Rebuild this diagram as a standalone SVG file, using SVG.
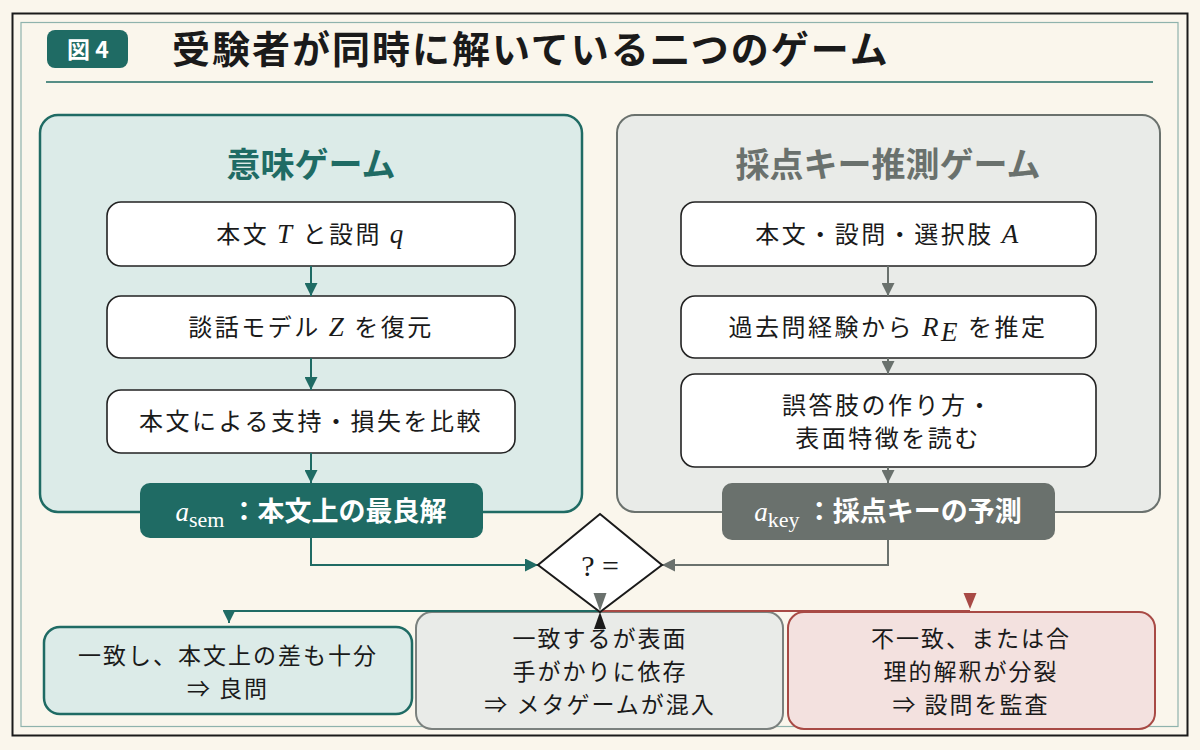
<svg xmlns="http://www.w3.org/2000/svg" width="1200" height="750" viewBox="0 0 1200 750">
<defs>
<style>
.jp{font-family:"Noto Sans CJK JP","Noto Sans",sans-serif;}
.m{font-family:"Liberation Serif","DejaVu Serif",serif;font-style:italic;font-size:27px;}
.box{fill:#ffffff;stroke:#222222;stroke-width:1.6;}
.bt{font-size:24px;fill:#1a1a1a;letter-spacing:2.5px;}
.res{font-size:27px;font-weight:bold;fill:#ffffff;}
.ct{stroke:#1f6b64;stroke-width:2;fill:none;}
.cg{stroke:#6a716d;stroke-width:2;fill:none;}
.cr{stroke:#a84a45;stroke-width:2;fill:none;}
.ot{font-size:23px;fill:#1a1a1a;letter-spacing:2px;}
</style>
<marker id="at" viewBox="0 0 13 13" refX="13" refY="6.5" markerWidth="13" markerHeight="13" markerUnits="userSpaceOnUse" orient="auto"><path d="M0,0 L13,6.5 L0,13 z" fill="#1f6b64"/></marker>
<marker id="ag" viewBox="0 0 13 13" refX="13" refY="6.5" markerWidth="13" markerHeight="13" markerUnits="userSpaceOnUse" orient="auto"><path d="M0,0 L13,6.5 L0,13 z" fill="#6a716d"/></marker>
</defs>
<rect x="0" y="0" width="1200" height="750" fill="#faf6ec"/>
<rect x="12.5" y="13.5" width="1175" height="722" fill="none" stroke="#1a1a1a" stroke-width="2"/>
<rect x="21" y="22.5" width="1157" height="704" fill="none" stroke="#8fb3ad" stroke-width="1.2"/>

<g id="header">
<rect x="47" y="30" width="81" height="38" rx="8" fill="#1f6b64"/>
<text x="88" y="57.5" text-anchor="middle" class="jp" font-size="23" font-weight="bold" fill="#ffffff">図 4</text>
<text x="172" y="63" class="jp" font-size="38" font-weight="bold" fill="#1a1a1a" letter-spacing="2">受験者が同時に解いている二つのゲーム</text>
<line x1="46" y1="82" x2="1153" y2="82" stroke="#1f6b64" stroke-width="1.5"/>
</g>

<g id="panel-sem">
<rect x="40" y="115" width="542" height="397" rx="18" fill="#dcebe8" stroke="#1f6b64" stroke-width="2.5"/>
<text x="311" y="177" text-anchor="middle" class="jp" font-size="34" font-weight="bold" fill="#1f6b64">意味ゲーム</text>
</g>
<g id="panel-key">
<rect x="617" y="115" width="543" height="397" rx="18" fill="#e9ebe8" stroke="#6a716d" stroke-width="2"/>
<text x="888" y="177" text-anchor="middle" class="jp" font-size="34" font-weight="bold" fill="#6a716d">採点キー推測ゲーム</text>
</g>

<g id="sem1"><rect class="box" x="107" y="202" width="408" height="64" rx="14"/>
<text x="311" y="243" text-anchor="middle" class="jp bt">本文 <tspan class="m">T</tspan> と設問 <tspan class="m">q</tspan></text></g>
<g id="sem2"><rect class="box" x="107" y="296" width="408" height="62" rx="14"/>
<text x="311" y="336" text-anchor="middle" class="jp bt">談話モデル <tspan class="m">Z</tspan> を復元</text></g>
<g id="sem3"><rect class="box" x="107" y="390" width="408" height="63" rx="14"/>
<text x="311" y="430" text-anchor="middle" class="jp bt" letter-spacing="2">本文による支持・損失を比較</text></g>
<g id="sem-result"><rect x="140" y="483" width="343" height="55" rx="10" fill="#1f6b64"/>
<text x="311" y="521" text-anchor="middle" class="jp res"><tspan class="m" font-weight="normal" font-size="34">a</tspan><tspan font-family="Liberation Serif, serif" font-weight="normal" font-size="22" dy="6">sem</tspan><tspan dy="-6"> ：本文上の最良解</tspan></text></g>

<g id="key1"><rect class="box" x="681" y="202" width="415" height="64" rx="14"/>
<text x="888" y="243" text-anchor="middle" class="jp bt">本文・設問・選択肢 <tspan class="m">A</tspan></text></g>
<g id="key2"><rect class="box" x="681" y="296" width="415" height="62" rx="14"/>
<text x="888" y="336" text-anchor="middle" class="jp bt">過去問経験から <tspan class="m">R</tspan><tspan class="m" font-size="18" dy="5">E</tspan><tspan dy="-5"> を推定</tspan></text></g>
<g id="key3"><rect class="box" x="681" y="374" width="415" height="93" rx="14"/>
<text x="888" y="414" text-anchor="middle" class="jp bt">誤答肢の作り方・</text>
<text x="888" y="447" text-anchor="middle" class="jp bt">表面特徴を読む</text></g>
<g id="key-result"><rect x="722" y="483" width="333" height="57" rx="10" fill="#6a716d"/>
<text x="888" y="521" text-anchor="middle" class="jp res"><tspan class="m" font-weight="normal" font-size="34">a</tspan><tspan font-family="Liberation Serif, serif" font-weight="normal" font-size="22" dy="6">key</tspan><tspan dy="-6"> ：採点キーの予測</tspan></text></g>

<g id="outcome-good"><rect x="44" y="627" width="368" height="87" rx="16" fill="#dcebe8" stroke="#1f6b64" stroke-width="2.5"/>
<text x="228" y="664" text-anchor="middle" class="jp ot" letter-spacing="0.5">一致し、本文上の差も十分</text>
<text x="228" y="697" text-anchor="middle" class="jp ot">⇒ 良問</text></g>
<g id="outcome-meta"><rect x="416" y="612" width="367" height="117" rx="16" fill="#e9ebe8" stroke="#7b817e" stroke-width="2"/>
<text x="600" y="647" text-anchor="middle" class="jp ot">一致するが表面</text>
<text x="600" y="680" text-anchor="middle" class="jp ot">手がかりに依存</text>
<text x="600" y="713" text-anchor="middle" class="jp ot">⇒ メタゲームが混入</text></g>
<g id="outcome-audit"><rect x="788" y="612" width="367" height="117" rx="16" fill="#f3e1df" stroke="#a84a45" stroke-width="2"/>
<text x="971" y="647" text-anchor="middle" class="jp ot">不一致、または合</text>
<text x="971" y="680" text-anchor="middle" class="jp ot">理的解釈が分裂</text>
<text x="971" y="713" text-anchor="middle" class="jp ot">⇒ 設問を監査</text></g>

<g id="connectors">
<path class="ct" d="M311,266 V296" marker-end="url(#at)"/>
<path class="ct" d="M311,358 V390" marker-end="url(#at)"/>
<path class="ct" d="M311,453 V483" marker-end="url(#at)"/>
<path class="cg" d="M888,266 V296" marker-end="url(#ag)"/>
<path class="cg" d="M888,358 V374" marker-end="url(#ag)"/>
<path class="cg" d="M888,467 V483" marker-end="url(#ag)"/>
<path class="ct" d="M311,538 V565 H538" marker-end="url(#at)"/>
<path class="cg" d="M888,540 V565 H662" marker-end="url(#ag)"/>
<path class="ct" d="M600,611 H229 V623" marker-end="url(#at)"/>
<path class="cr" d="M600,611 H970"/>
<polygon points="963.5,593 976.5,593 970,609" fill="#a84a45"/>
</g>

<g id="decision">
<polygon points="600,514 662,565 600,612 538,565" fill="#ffffff" stroke="#1a1a1a" stroke-width="2"/>
<text x="600" y="576" text-anchor="middle" font-family="Liberation Serif, serif" font-size="30" fill="#1a1a1a">? =</text>
<polygon points="593.5,593 606.5,593 600,611" fill="#6a716d"/>
<polygon points="594,629 606,629 600,612" fill="#1a1a1a"/>
</g>
</svg>
